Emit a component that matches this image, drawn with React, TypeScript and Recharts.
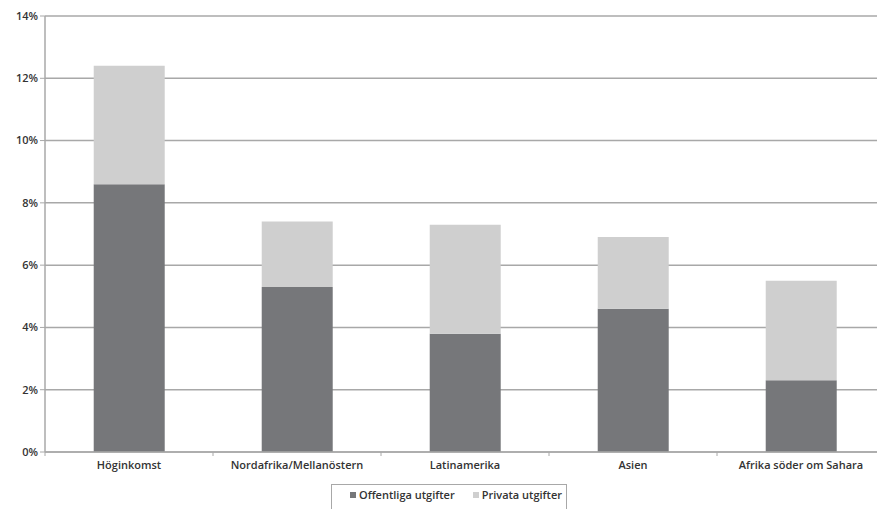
import { BarChart, Bar, XAxis, YAxis, CartesianGrid, Legend } from 'recharts';

const regions = ['Höginkomst', 'Nordafrika/Mellanöstern', 'Latinamerika', 'Asien', 'Afrika söder om Sahara'];
const offentliga = [8.6, 5.3, 3.8, 4.6, 2.3];
const privata = [3.8, 2.1, 3.5, 2.3, 3.2];
const yTicks = [0, 2, 4, 6, 8, 10, 12, 14];

const data = regions.map((name, i) => ({ name, offentliga: offentliga[i], privata: privata[i] }));

const DARK = '#76777a';
const LIGHT = '#cfcfcf';
const GRID = '#a8a8a8';
const FONT = '"Open Sans", "Liberation Sans", sans-serif';

// the plot area runs a little past the right edge of the picture, as in the reference
const W = 885;
const VIEW_W = 877;
const H = 509;
const LEFT = 45;
const BAND = (W - LEFT) / regions.length;

function XTick(props: any) {
  const { x, y, payload } = props;
  return (
    <g>
      <line x1={x - BAND / 2} y1={y - 8} x2={x - BAND / 2} y2={y - 4} stroke={GRID} />
      <text x={x} y={y + 9} textAnchor="middle" fontSize={11} fontWeight={600} fill="#333" fontFamily={FONT}>
        {payload.value}
      </text>
    </g>
  );
}

function LegendBox() {
  return (
    <div style={{ position: 'relative', height: 27 }}>
      <div
        style={{
          position: 'absolute',
          left: 331,
          top: 2,
          width: 236,
          height: 34,
          border: '1.5px solid #a8a8a8',
          boxSizing: 'border-box',
          padding: '0 0 0 18px',
          display: 'flex',
          alignItems: 'flex-start',
          paddingTop: 2,
          gap: 18,
          fontFamily: FONT,
          fontSize: 11,
          fontWeight: 600,
          color: '#333',
          whiteSpace: 'nowrap',
        }}
      >
        <span style={{ display: 'flex', alignItems: 'center', gap: 3 }}>
          <span style={{ width: 6, height: 6, background: DARK, display: 'inline-block' }} />
          Offentliga utgifter
        </span>
        <span style={{ display: 'flex', alignItems: 'center', gap: 3 }}>
          <span style={{ width: 6, height: 6, background: LIGHT, display: 'inline-block' }} />
          Privata utgifter
        </span>
      </div>
    </div>
  );
}

export default function App() {
  return (
    <div style={{ position: 'absolute', left: 0, top: 0, width: VIEW_W, height: H, overflow: 'hidden', background: '#fff' }}>
      <BarChart
        width={W}
        height={H}
        data={data}
        margin={{ top: 16, right: 0, bottom: 0, left: 0 }}
        barCategoryGap="29%"
      >
        <CartesianGrid vertical={false} stroke={GRID} strokeWidth={1.5} />
        <XAxis
          dataKey="name"
          interval={0}
          height={30}
          tickLine={false}
          axisLine={{ stroke: GRID, strokeWidth: 1.5 }}
          tick={<XTick />}
        />
        <YAxis
          width={LEFT}
          domain={[0, 14]}
          ticks={yTicks}
          interval={0}
          tickFormatter={(v: number) => `${v}%`}
          axisLine={{ stroke: GRID, strokeWidth: 1.5 }}
          tickLine={{ stroke: GRID }}
          tickSize={5}
          tick={{ fontSize: 11, fontWeight: 600, fill: '#333', fontFamily: FONT }}
        />
        <Legend
          verticalAlign="bottom"
          align="left"
          height={27}
          wrapperStyle={{ left: 0, bottom: 0 }}
          content={<LegendBox />}
        />
        <Bar dataKey="offentliga" name="Offentliga utgifter" stackId="a" fill={DARK} isAnimationActive={false} />
        <Bar dataKey="privata" name="Privata utgifter" stackId="a" fill={LIGHT} isAnimationActive={false} />
      </BarChart>
    </div>
  );
}
